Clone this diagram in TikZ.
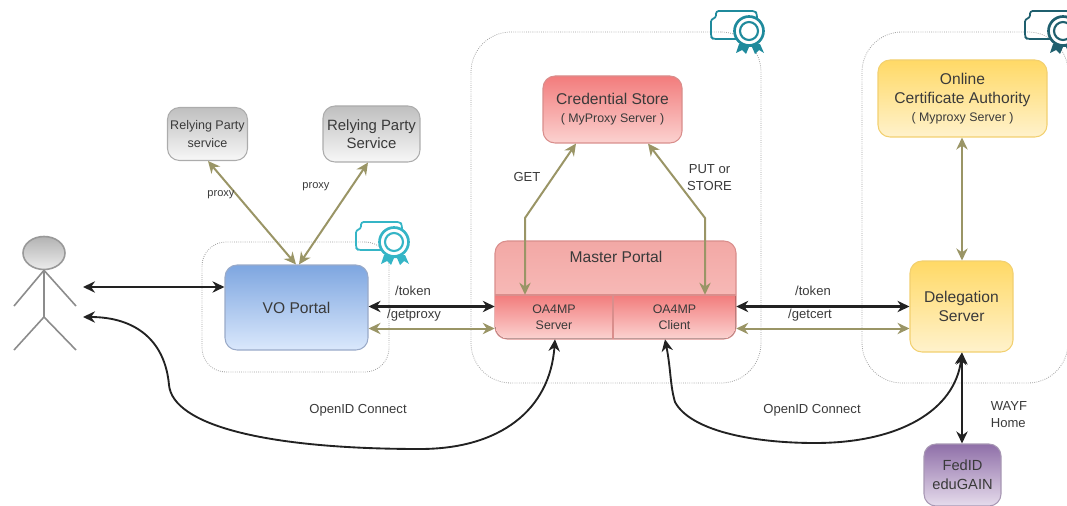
\documentclass[tikz,border=0pt]{standalone}
\usepackage{fontspec}
\setmainfont{Liberation Sans}
\usetikzlibrary{arrows.meta,shapes.geometric}
\definecolor{olivec}{HTML}{9A9566}
\definecolor{linec}{HTML}{222222}
\definecolor{txt}{HTML}{3A3A3A}
\definecolor{redtop}{HTML}{F27C7C}
\definecolor{redbot}{HTML}{FBD2D0}
\definecolor{redline}{HTML}{D98E8C}
\definecolor{mastertop}{HTML}{F2A8A5}
\definecolor{masterbot}{HTML}{FBC6C4}
\definecolor{yeltop}{HTML}{FFD966}
\definecolor{yelbot}{HTML}{FFF2CC}
\definecolor{yelline}{HTML}{F2D070}
\definecolor{blutop}{HTML}{7EA6E0}
\definecolor{blubot}{HTML}{DAE8FC}
\definecolor{bluline}{HTML}{9AAAC8}
\definecolor{purtop}{HTML}{8F6FA8}
\definecolor{purbot}{HTML}{E6DCEC}
\definecolor{purline}{HTML}{A898B4}
\definecolor{sealA}{HTML}{35B5C6}
\definecolor{sealB}{HTML}{1F8A9C}
\definecolor{sealC}{HTML}{1F5F6E}
\def\px{0.75pt}
\newcommand{\bigtxt}{\fontsize{11.7}{14.6}\selectfont}
\newcommand{\midtxt}{\fontsize{9.3}{12}\selectfont}
\newcommand{\labtxt}{\fontsize{9.8}{12.6}\selectfont}
\tikzset{
  x=0.75pt,y=-0.75pt,
  box/.style={rounded corners=9pt,inner sep=0pt,align=center,text=txt,font=\bigtxt,draw=#1,line width=0.8pt},
  group/.style={draw=gray!75,densely dotted,line width=0.6pt,inner sep=0pt},
  lbl/.style={inner sep=0pt,align=center,text=txt,font=\labtxt},
  blk/.style={draw=linec,line width=1.6pt,{Stealth[length=9pt,width=8.5pt]}-{Stealth[length=9pt,width=8.5pt]}},
  oliv/.style={draw=olivec,line width=1.5pt,{Stealth[length=9pt,width=8.5pt]}-{Stealth[length=9pt,width=8.5pt]}},
  limb/.style={draw=gray!90,line width=1.2pt},
  seal/.pic={
    \draw[#1,line width=1.3pt,line join=round,rounded corners=2pt] (2,28) -- (0,26) -- (0,8) -- (5,7) -- (5,0) -- (44,0) -- (46,3) -- (46,28) -- cycle;
    \fill[#1] (28,33) -- (25,42) -- (31,39) -- (35,43) -- (38,36) -- (41,36) -- (44,43) -- (48,39) -- (53,42) -- (49,33) -- cycle;
    \draw[#1,fill=white,line width=2pt] (38,20) circle[radius=14.5];
    \draw[#1,fill=white,line width=1.6pt] (38,20) circle[radius=9];
  },
}
\begin{document}
\begin{tikzpicture}
\useasboundingbox (0,0) rectangle (1067,506);
% groups
\node[group,rounded corners=18pt,minimum width=187*\px,minimum height=130*\px] (vogroup) at (295.5,307) {};
\node[group,rounded corners=30pt,minimum width=290*\px,minimum height=351*\px] (mastergroup) at (616,207.5) {};
\node[group,rounded corners=30pt,minimum width=206*\px,minimum height=351*\px] (delgroup) at (965,207.5) {};
% certificates
\pic at (356,222) {seal=sealA};
\pic at (711,11) {seal=sealB};
\pic at (1025,11) {seal=sealC};
% boxes
\node[box=gray!65,top color=gray!50,bottom color=gray!6,minimum width=80*\px,minimum height=53*\px,font=\fontsize{9.4}{13}\selectfont] (rpa) at (207.5,134) {Relying Party\\service};
\node[box=gray!65,top color=gray!50,bottom color=gray!6,minimum width=97*\px,minimum height=56*\px,font=\fontsize{11.2}{14}\selectfont] (rpb) at (371.5,134) {Relying Party\\Service};
\node[box=redline,top color=redtop,bottom color=redbot,minimum width=139*\px,minimum height=67*\px] (store) at (612.5,109.5) {Credential Store\\[-1pt]{\midtxt( MyProxy Server )}};
\node[box=yelline,top color=yeltop,bottom color=yelbot,minimum width=169*\px,minimum height=77*\px] (ca) at (962.5,98.5) {Online\\Certificate Authority\\[-1pt]{\midtxt( Myproxy Server )}};
\node[box=bluline,top color=blutop,bottom color=blubot,minimum width=143*\px,minimum height=85*\px] (vo) at (296.5,307.5) {VO Portal};
\node[box=yelline,top color=yeltop,bottom color=yelbot,minimum width=103*\px,minimum height=91*\px] (del) at (961.5,306.5) {Delegation\\Server};
\node[box=purline,top color=purtop,bottom color=purbot,minimum width=77*\px,minimum height=62*\px,font=\fontsize{11}{14}\selectfont] (fed) at (962.5,475) {FedID\\eduGAIN};
% master portal
\node[box=redline,top color=mastertop,bottom color=masterbot,minimum width=241*\px,minimum height=98*\px] (master) at (615.5,290) {};
\node[lbl,font=\bigtxt] (mastertitle) at (616,257) {Master Portal};
\fill[top color=redtop,bottom color=redbot] (495.4,295) -- (735.6,295) [rounded corners=9pt] -- (735.6,338.6) -- (495.4,338.6) [sharp corners] -- (495.4,295) -- cycle;
\draw[redline,line width=0.8pt] (495,295) -- (736,295) (613,295) -- (613,339);
\node[inner sep=0pt,align=center,text=txt,font=\midtxt,minimum width=118*\px,minimum height=44*\px] (server) at (554,317) {OA4MP\\Server};
\node[inner sep=0pt,align=center,text=txt,font=\midtxt,minimum width=123*\px,minimum height=44*\px] (client) at (674.5,317) {OA4MP\\Client};
% actor
\node[ellipse,draw=gray!80,line width=1.2pt,top color=gray!60,bottom color=gray!15,minimum width=42*\px,minimum height=33*\px,inner sep=0pt] (head) at (44,253) {};
\coordinate (hip) at (44,317);
\coordinate (handl) at (14,306);
\coordinate (handr) at (76,306);
\coordinate (footl) at (14,350);
\coordinate (footr) at (76,350);
\draw[limb] (head.south) -- (hip) (head.south) -- (handl) (head.south) -- (handr) (hip) -- (footl) (hip) -- (footr);
% anchors for connectors
\coordinate (useta) at (83,287);
\coordinate (usetb) at (83,317);
\coordinate (rowtoken) at (0,306.5);
\coordinate (rowproxy) at (0,328.5);
\coordinate (voa) at (296,0);
\coordinate (vob) at (299,0);
\coordinate (rpain) at (208,0);
\coordinate (rpbin) at (368,0);
\coordinate (getbend) at (525,218);
\coordinate (putbend) at (705,218);
\coordinate (gettop) at (576,0);
\coordinate (puttop) at (648,0);
\coordinate (cax) at (962,0);
\coordinate (srvin) at (555,0);
\coordinate (clin) at (665,0);
% connectors
\draw[blk] (useta) -- (vo.west |- useta);
\draw[oliv] (rpa.south -| rpain) -- (vo.north -| voa);
\draw[oliv] (rpb.south -| rpbin) -- (vo.north -| vob);
\draw[oliv] (server.north -| getbend) -- (getbend) -- (store.south -| gettop);
\draw[oliv] (client.north -| putbend) -- (putbend) -- (store.south -| puttop);
\draw[blk] (vo.east |- rowtoken) -- (server.west |- rowtoken);
\draw[oliv] (vo.east |- rowproxy) -- (server.west |- rowproxy);
\draw[blk] (client.east |- rowtoken) -- (del.west |- rowtoken);
\draw[oliv] (client.east |- rowproxy) -- (del.west |- rowproxy);
\draw[oliv] (ca.south -| cax) -- (del.north -| cax);
\draw[blk] (del.south -| cax) -- (fed.north -| cax);
\draw[blk,line width=1.4pt] (usetb) .. controls (135,317) and (165,340) .. (169,385) .. controls (173,425) and (265,449) .. (420,449) .. controls (500,449) and (550,410) .. (server.south -| srvin);
\draw[blk,line width=1.4pt] (client.south -| clin) .. controls (671,370) and (670,385) .. (675,402) .. controls (690,430) and (750,443) .. (815,443) .. controls (900,443) and (955,410) .. (del.south -| cax);
% labels
\node[lbl,font=\fontsize{8.3}{10}\selectfont] (lp1) at (221,195) {proxy};
\node[lbl,font=\fontsize{8.3}{10}\selectfont] (lp2) at (316,187) {proxy};
\node[lbl] (lget) at (527,177) {GET};
\node[lbl] (lput) at (709.5,177.5) {PUT or\\STORE};
\node[lbl] (ltk1) at (413,291) {/token};
\node[lbl] (lgp) at (414,315) {/getproxy};
\node[lbl] (ltk2) at (813,291) {/token};
\node[lbl] (lgc) at (810,315) {/getcert};
\node[lbl] (loc1) at (358,410) {OpenID Connect};
\node[lbl] (loc2) at (812,410) {OpenID Connect};
\node[lbl,align=left] (lway) at (1009,414.5) {WAYF\\Home};
\end{tikzpicture}
\end{document}
